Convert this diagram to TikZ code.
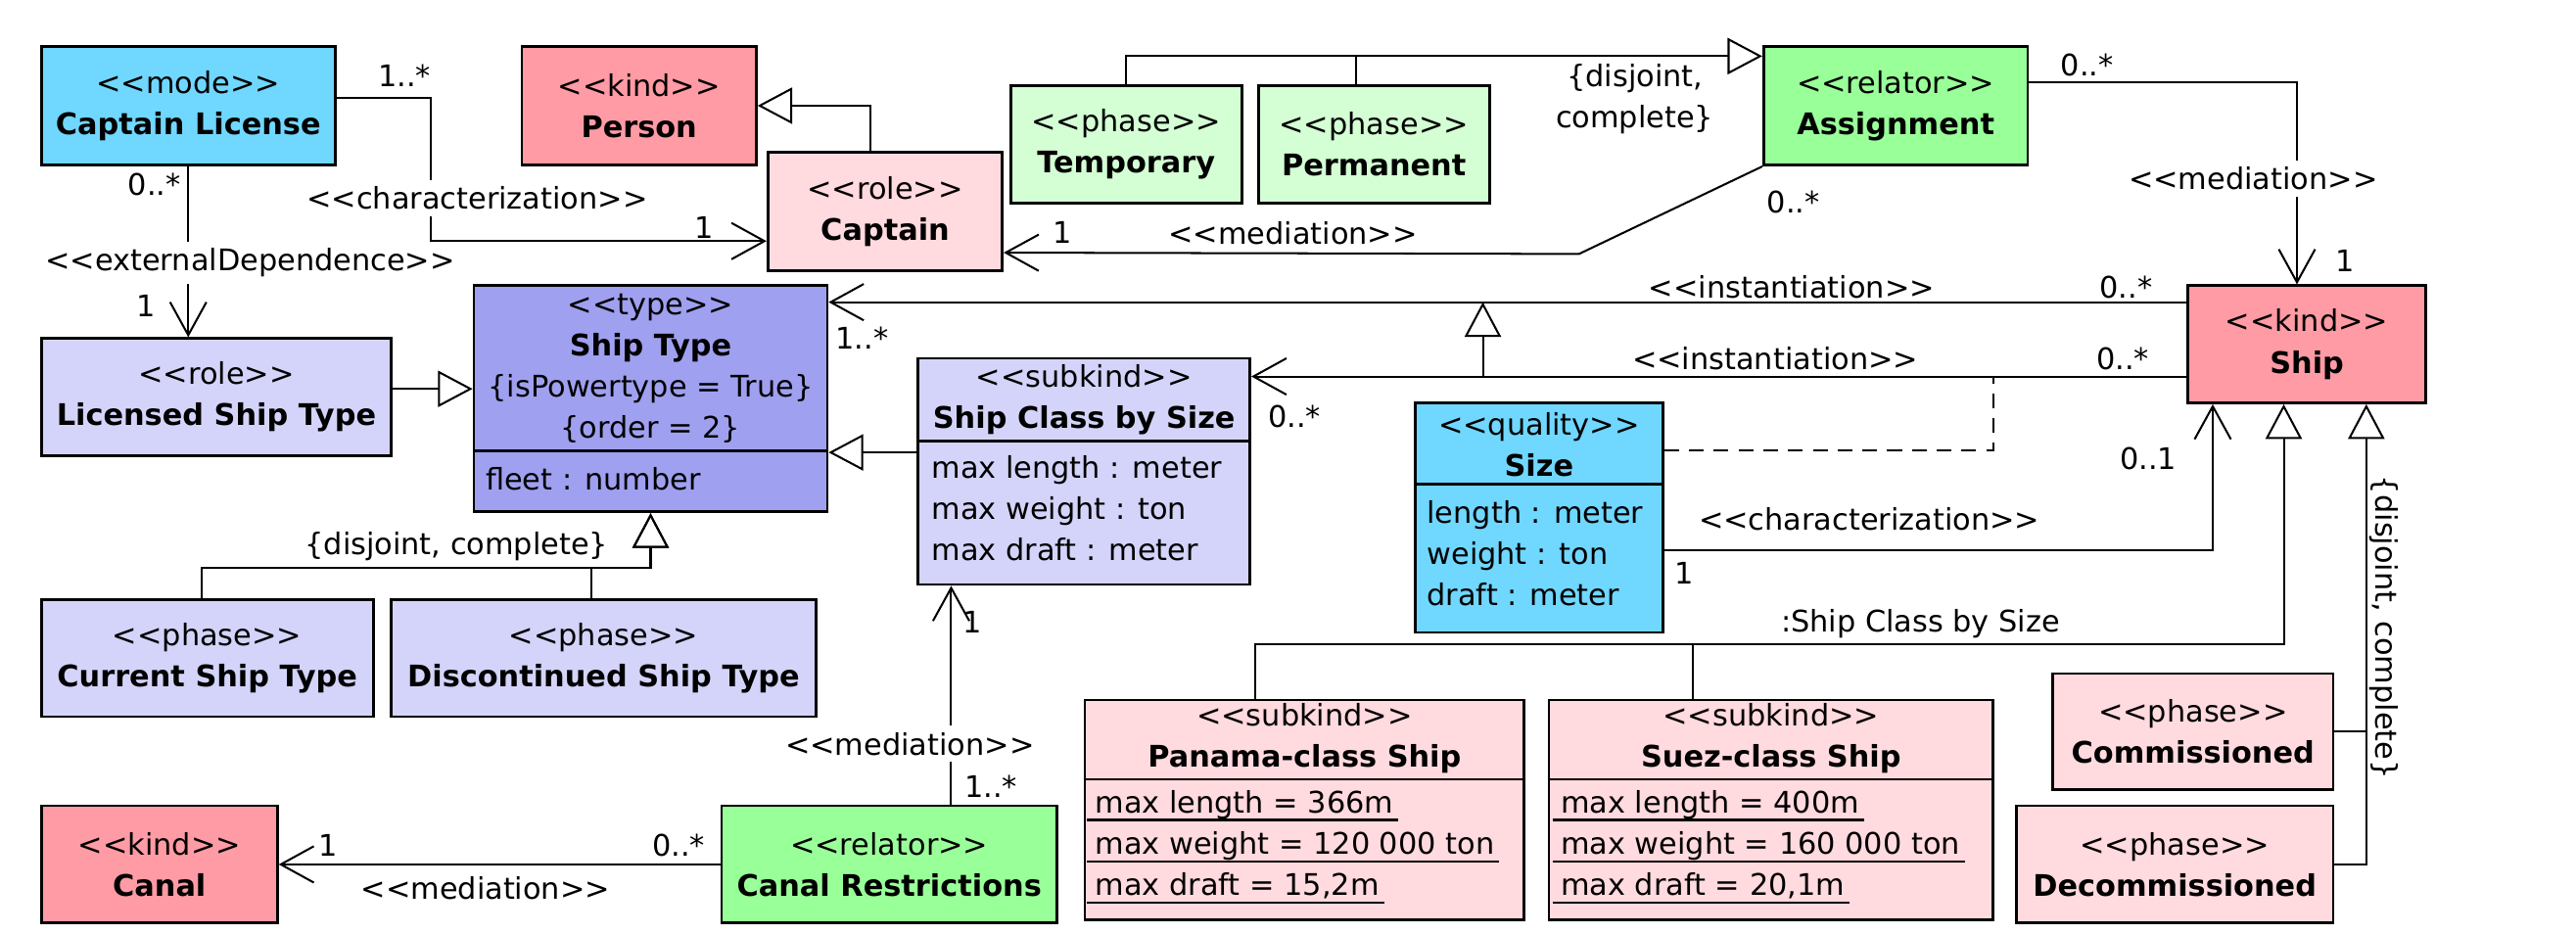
\documentclass[tikz,border=0pt]{standalone}
\usepackage{fontspec}
\usepackage[]{xcolor}
\usepackage{tikz}
\usetikzlibrary{arrows.meta}
\newfontfamily\umlfont{DejaVu Sans}
\definecolor{modeblue}{RGB}{112,215,255}
\definecolor{kindred}{RGB}{255,155,164}
\definecolor{rolepink}{RGB}{255,218,223}
\definecolor{phasegreen}{RGB}{212,255,212}
\definecolor{relatorgreen}{RGB}{153,255,153}
\definecolor{typeblue}{RGB}{160,160,240}
\definecolor{subkindblue}{RGB}{212,212,250}
\newcommand{\ulattr}[1]{\setbox0\hbox{\kern5pt #1\kern3pt}\rlap{\raisebox{-5pt}{\rule{\wd0}{1.4pt}}}\box0}

\begin{document}
\begin{tikzpicture}
		[x = 1pt, y = -1pt,
		 font = \umlfont\fontsize{18}{25}\selectfont,
		 cls/.style = {draw, line width = 1.6pt, align = center, inner sep = 0pt},
		 kindbox/.style = {cls, fill = kindred},
		 rolebox/.style = {cls, fill = rolepink},
		 modebox/.style = {cls, fill = modeblue},
		 phasebox/.style = {cls, fill = phasegreen},
		 relatorbox/.style = {cls, fill = relatorgreen},
		 typebox/.style = {cls, fill = typeblue},
		 subkindbox/.style = {cls, fill = subkindblue},
		 head/.style = {align = center, inner sep = 0pt},
		 attr/.style = {align = left, inner sep = 0pt, anchor = west},
		 divider/.style = {line width = 1.6pt},
		 conn/.style = {line width = 1.2pt},
		 gen/.style = {conn, -{Triangle[open, length = 21pt, width = 22pt]}},
		 assoc/.style = {conn, -{Straight Barb[length = 20pt, width = 22pt]}},
		 lbl/.style = {fill = white, inner xsep = 2pt, inner ysep = 4pt},
		 card/.style = {inner sep = 0pt}]
			\useasboundingbox (0,0) rectangle (1560,565.6);
			\node [modebox, minimum width = 178pt, minimum height = 72pt] (license) at (114,64) {<<mode>>\\\textbf{Captain License}};
			\node [kindbox, minimum width = 142pt, minimum height = 72pt] (person) at (387,64) {<<kind>>\\\textbf{Person}};
			\node [rolebox, minimum width = 142pt, minimum height = 72pt] (captain) at (536,128) {<<role>>\\\textbf{Captain}};
			\node [phasebox, minimum width = 140pt, minimum height = 71pt] (temporary) at (682,87.5) {<<phase>>\\\textbf{Temporary}};
			\node [phasebox, minimum width = 140pt, minimum height = 71pt] (permanent) at (832,87.5) {<<phase>>\\\textbf{Permanent}};
			\node [relatorbox, minimum width = 160pt, minimum height = 72pt] (assignment) at (1148,64) {<<relator>>\\\textbf{Assignment}};
			\node [kindbox, minimum width = 144pt, minimum height = 71pt] (ship) at (1397,208.5) {<<kind>>\\\textbf{Ship}};
			\node [subkindbox, minimum width = 212pt, minimum height = 71pt] (licship) at (131,240.5) {<<role>>\\\textbf{Licensed Ship Type}};
			\node [subkindbox, minimum width = 201pt, minimum height = 71pt] (current) at (125.5,398.5) {<<phase>>\\\textbf{Current Ship Type}};
			\node [subkindbox, minimum width = 257pt, minimum height = 71pt] (discont) at (365.5,398.5) {<<phase>>\\\textbf{Discontinued Ship Type}};
			\node [rolebox, minimum width = 170pt, minimum height = 70pt] (comm) at (1328,443) {<<phase>>\\\textbf{Commissioned}};
			\node [rolebox, minimum width = 192pt, minimum height = 71pt] (decomm) at (1317,523.5) {<<phase>>\\\textbf{Decommissioned}};
			\node [kindbox, minimum width = 143pt, minimum height = 71pt] (canal) at (96.5,523.5) {<<kind>>\\\textbf{Canal}};
			\node [relatorbox, minimum width = 203pt, minimum height = 71pt] (canalr) at (538.5,523.5) {<<relator>>\\\textbf{Canal Restrictions}};

			\node [typebox, minimum width = 214pt, minimum height = 137pt] (shiptype) at (394,241.5) {};
			\node [head] (shiptypehead) at (394,223) {<<type>>\\\textbf{Ship Type}\\\{isPowertype = True\}\\\{order = 2\}};
			\draw [divider] (shiptype.west |- 0,273) -- (shiptype.east |- 0,273);
			\node [attr] (fleet) at (294,290) {fleet : number};

			\node [subkindbox, minimum width = 201pt, minimum height = 137pt] (shipclass) at (656.5,285.5) {};
			\node [head] (shipclasshead) at (656.5,242) {<<subkind>>\\\textbf{Ship Class by Size}};
			\draw [divider] (shipclass.west |- 0,267) -- (shipclass.east |- 0,267);
			\node [attr] (shipclassattr) at (564,308) {max length : meter\\max weight : ton\\max draft : meter};

			\node [modebox, minimum width = 150pt, minimum height = 139pt] (size) at (932,313.5) {};
			\node [head] (sizehead) at (932,269.5) {<<quality>>\\\textbf{Size}};
			\draw [divider] (size.west |- 0,293) -- (size.east |- 0,293);
			\node [attr] (sizeattr) at (864,335) {length : meter\\weight : ton\\draft : meter};

			\node [rolebox, minimum width = 266pt, minimum height = 133pt] (panama) at (790,490.5) {};
			\node [head] (panamahead) at (790,447) {<<subkind>>\\\textbf{Panama-class Ship}};
			\draw [divider] (panama.west |- 0,472) -- (panama.east |- 0,472);
			\node [attr] (panamaattr) at (658,513) {\ulattr{max length = 366m}\\\ulattr{max weight = 120 000 ton}\\\ulattr{max draft = 15,2m}};

			\node [rolebox, minimum width = 269pt, minimum height = 133pt] (suez) at (1072.5,490.5) {};
			\node [head] (suezhead) at (1072.5,447) {<<subkind>>\\\textbf{Suez-class Ship}};
			\draw [divider] (suez.west |- 0,472) -- (suez.east |- 0,472);
			\node [attr] (suezattr) at (940,513) {\ulattr{max length = 400m}\\\ulattr{max weight = 160 000 ton}\\\ulattr{max draft = 20,1m}};

			\coordinate (instlow) at (898,228);
			\coordinate (insthigh) at (898,183);
			\coordinate (instdash) at (1207,228);

			\draw [gen] ([xshift = -9pt]captain.north) |- (person.east);
			\draw [assoc] ([yshift = 5pt]license.east) -- ++(57,0) |- ([yshift = -18pt]captain.west);
			\draw [assoc] (license.south) -- (license.south |- licship.north);
			\draw [gen] ([yshift = 5pt]licship.east) -- ([yshift = 5pt]licship.east -| shiptype.west);
			\draw [gen] (temporary.north) |- ([yshift = 30pt]assignment.west);
			\draw [conn] ([xshift = -11pt]permanent.north) -- ++(0,-18);
			\draw [assoc] (assignment.south west) -- ++(-111,53) -- ([yshift = -25pt]captain.east);
			\draw [assoc] ([yshift = 14pt]assignment.east) -| ([xshift = -6pt]ship.north);
			\draw [assoc] ([yshift = 25.5pt]ship.west) -- ([yshift = 25.5pt]ship.west -| shiptype.east);
			\draw [assoc] ([yshift = -19.5pt]ship.west) -- ([yshift = -19.5pt]ship.west -| shipclass.east);
			\draw [gen] (instlow) -- (insthigh);
			\draw [conn, dash pattern = on 9pt off 6pt] ([yshift = 40.5pt]size.east) -| (instdash);
			\draw [assoc] ([yshift = -19.5pt]size.east) -| ([xshift = -57pt]ship.south);
			\draw [gen] ([xshift = -30pt]panama.north) -- ++(0,-33) -| ([xshift = -14pt]ship.south);
			\draw [conn] ([xshift = -47.5pt]suez.north) -- ++(0,-33);
			\draw [gen] (decomm.east) -| ([xshift = 36pt]ship.south);
			\draw [conn] (comm.east) -- ++(20,0);
			\draw [gen] (shipclass.west |- 0,274) -- (shiptype.east |- 0,274);
			\draw [gen] ([xshift = -3.5pt]current.north) |- ([yshift = -33pt]shiptype.south) -- (shiptype.south);
			\draw [gen] ([xshift = -7.5pt]discont.north) |- ([yshift = -33pt]shiptype.south) -- (shiptype.south);
			\draw [assoc] ([xshift = 37.5pt]canalr.north) -- ([xshift = 37.5pt]canalr.north |- shipclass.south);
			\draw [assoc] (canalr.west) -- (canal.east);

			\node [card] (licmany) at (245,46) {1..*};
			\node [lbl] (licchar) at (289,120) {<<characterization>>};
			\node [card] (captone) at (426.5,138) {1};
			\node [card] (licdep) at (93.5,112) {0..*};
			\node [lbl] (extdep) at (151.5,159) {<<externalDependence>>};
			\node [card] (licshipone) at (88.5,185) {1};
			\node [card] (captmedone) at (643.5,141) {1};
			\node [card] (captmed) at (783,141) {<<mediation>>};
			\node [card, align = center] (tempset) at (990,60) {\{disjoint,\\complete\}};
			\node [card] (assignmany) at (1264,39.5) {0..*};
			\node [lbl] (shipmed) at (1364.5,108) {<<mediation>>};
			\node [card] (shipone) at (1420,158) {1};
			\node [card] (assigncapt) at (1086,122.5) {0..*};
			\node [card] (insttype) at (1085,174) {<<instantiation>>};
			\node [card] (shipmanya) at (1287.5,174) {0..*};
			\node [card] (instclass) at (1075,217) {<<instantiation>>};
			\node [card] (shipmanyb) at (1285.5,217) {0..*};
			\node [card] (typemany) at (522,204.5) {1..*};
			\node [card] (classmany) at (784,252) {0..*};
			\node [card] (sizechar) at (1132,314.5) {<<characterization>>};
			\node [card] (sizeone) at (1020,347) {1};
			\node [card] (shipopt) at (1301,277.6) {0..1};
			\node [card] (classset) at (1163,378) {:Ship Class by Size};
			\node [card, rotate = -90] (phaseset) at (1443.6,380) {\{disjoint, complete\}};
			\node [card] (classone) at (589,377) {1};
			\node [lbl] (canalrmed) at (551,450.6) {<<mediation>>};
			\node [card] (canalrmany) at (600,476) {1..*};
			\node [card] (canalone) at (199,512) {1};
			\node [card] (canalmany) at (411,512) {0..*};
			\node [card] (canalmed) at (294,538) {<<mediation>>};
			\node [card] (typeset) at (276.5,331) {\{disjoint, complete\}};
	\end{tikzpicture}
\end{document}
